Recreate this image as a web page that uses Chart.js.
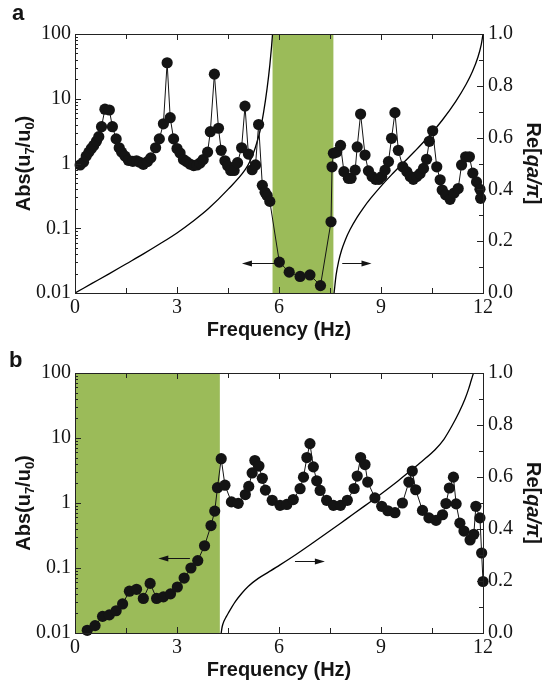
<!DOCTYPE html>
<html>
<head>
<meta charset="utf-8">
<script src="https://cdn.jsdelivr.net/npm/chart.js@4.4.0/dist/chart.umd.min.js"></script>
<style>
  body { margin: 0; background: #fff; }
  canvas { display: block; }
</style>
</head>
<body>
<canvas id="chartA" width="547" height="343"></canvas>
<canvas id="chartB" width="547" height="344"></canvas>
<script>
// panel a: transmission |u7/u0| against frequency
var freqA = [0.15,0.25,0.33,0.41,0.48,0.55,0.63,0.70,0.78,0.88,1.01,1.10,1.21,1.30,1.37,1.47,1.57,1.70,1.81,1.91,
  2.01,2.13,2.23,2.37,2.48,2.60,2.71,2.80,2.90,3.00,3.09,3.19,3.28,3.38,3.49,3.59,3.68,3.77,3.90,3.98,
  4.10,4.22,4.30,4.41,4.49,4.58,4.68,4.78,4.90,5.00,5.10,5.21,5.31,5.40,5.51,5.59,5.65,5.73,6.01,6.30,
  6.62,6.91,7.22,7.53,7.56,7.60,7.70,7.81,7.91,8.04,8.12,8.24,8.30,8.40,8.53,8.63,8.74,8.84,8.94,9.02,
  9.12,9.22,9.31,9.41,9.51,9.64,9.76,9.86,9.95,10.05,10.15,10.25,10.34,10.42,10.52,10.64,10.74,10.80,10.90,11.03,
  11.15,11.27,11.37,11.49,11.60,11.70,11.81,11.91,11.93];
var absA = [0.95,1.05,1.3,1.5,1.7,1.9,2.2,2.6,3.7,6.9,6.7,3.7,2.4,1.75,1.5,1.3,1.12,1.08,1.1,1.04,
  0.97,1.07,1.22,1.75,2.4,4.1,36,5.1,2.4,1.7,1.45,1.15,1.07,0.98,0.93,0.95,1.02,1.15,1.5,3.1,
  24,3.5,1.6,1.1,0.92,0.78,0.78,1.03,1.75,7.7,1.4,0.8,0.95,4.0,0.46,0.36,0.32,0.26,0.030,0.021,
  0.018,0.019,0.013,0.126,0.89,1.44,1.5,1.9,0.75,0.59,0.59,0.79,1.8,5.8,1.35,0.77,0.63,0.57,0.57,0.63,
  0.79,1.07,2.45,6.1,1.6,0.89,0.75,0.63,0.57,0.63,0.7,0.84,1.16,2.2,3.2,0.89,0.56,0.39,0.33,0.28,
  0.35,0.41,0.95,1.27,1.27,0.71,0.52,0.4,0.29];
// panel a: Re[qa/pi], two branches either side of the gap
var reFreqA1 = [0,0.5,1.0,1.5,2.0,2.5,3.0,3.5,3.92,4.5,5.0,5.15,5.3,5.45,5.55,5.65,5.73,5.78,5.81];
var reA1 = [0,0.037,0.074,0.112,0.15,0.19,0.232,0.28,0.325,0.40,0.475,0.51,0.56,0.63,0.70,0.79,0.88,0.95,1.0];
var reFreqA2 = [7.62,7.68,7.75,7.84,7.95,8.09,8.3,8.48,8.7,8.97,9.3,9.66,10.0,10.44,10.8,11.2,11.5,11.69,11.85,11.95,12.0];
var reA2 = [0,0.07,0.12,0.165,0.205,0.245,0.293,0.328,0.366,0.408,0.455,0.503,0.548,0.61,0.667,0.74,0.805,0.855,0.91,0.96,1.0];
var gapA = [5.81, 7.6];

// panel b
var freqB = [0.36,0.59,0.81,1.01,1.21,1.40,1.60,1.81,2.01,2.21,2.40,2.60,2.81,3.01,3.21,3.41,3.61,3.81,4.00,4.11,
  4.19,4.30,4.41,4.60,4.80,5.01,5.11,5.21,5.29,5.41,5.51,5.60,5.80,6.03,6.23,6.42,6.62,6.72,6.82,6.91,
  7.01,7.11,7.21,7.40,7.60,7.81,8.01,8.21,8.30,8.40,8.53,8.61,8.82,9.02,9.20,9.41,9.63,9.82,9.92,10.02,
  10.22,10.41,10.62,10.81,10.91,11.01,11.13,11.21,11.32,11.44,11.62,11.73,11.79,11.91,11.96,12.0];
var absB = [0.011,0.013,0.018,0.019,0.022,0.028,0.044,0.047,0.034,0.058,0.034,0.036,0.040,0.051,0.070,0.10,0.13,0.22,0.45,0.75,
  1.72,4.8,1.88,1.04,0.99,1.35,1.8,2.9,4.5,3.7,2.4,1.58,1.1,0.92,0.95,1.13,1.66,2.5,5.0,8.2,
  3.6,2.2,1.56,1.1,0.92,0.92,1.1,1.67,2.6,5.0,3.9,2.1,1.2,0.89,0.76,0.71,1.0,2.1,3.1,1.6,
  0.77,0.59,0.54,0.66,0.98,1.7,2.5,0.97,0.49,0.37,0.27,0.33,0.89,0.59,0.17,0.062];
var reFreqB = [4.30,4.33,4.38,4.45,4.51,4.7,4.9,5.1,5.39,5.7,6.03,6.5,7.0,7.5,8.0,8.5,9.0,9.5,9.83,10.2,10.59,10.85,11.08,11.3,11.47,11.58,11.65,11.72];
var reB = [0,0.025,0.045,0.063,0.077,0.118,0.152,0.18,0.21,0.235,0.262,0.302,0.347,0.393,0.44,0.487,0.535,0.585,0.62,0.66,0.705,0.745,0.795,0.85,0.90,0.94,0.97,1.0];
var gapB = [0, 4.26];

var xTicks = [0, 3, 6, 9, 12];
var absTicks = [0.01, 0.1, 1, 10, 100];
var reTicks = [0, 0.2, 0.4, 0.6, 0.8, 1.0];

// arrows: from, to, value, axis
var arrowsA = [[5.88, 4.91, 0.029, 'y'], [7.86, 8.72, 0.116, 'y1']];
var arrowsB = [[3.38, 2.45, 0.143, 'y'], [6.47, 7.35, 0.278, 'y1']];

var GREEN = '#9bbb59';
var INK = '#141414';
var SANS = '"Liberation Sans", Arial, sans-serif';
var SERIF = '"Liberation Serif", "Times New Roman", serif';

function pts(xs, ys) {
  return xs.map(function (x, i) { return { x: x, y: ys[i] }; });
}

function drawParts(ctx, parts, cx, cy, rot) {
  ctx.save();
  ctx.translate(cx, cy);
  ctx.rotate(rot);
  ctx.textAlign = 'left';
  ctx.textBaseline = 'alphabetic';
  var w = 0;
  parts.forEach(function (p) { ctx.font = p[1]; w += ctx.measureText(p[0]).width; });
  var u = -w / 2;
  parts.forEach(function (p) {
    ctx.font = p[1];
    ctx.fillText(p[0], u, 7 + (p[2] || 0));
    u += ctx.measureText(p[0]).width;
  });
  ctx.restore();
}

function arrow(ctx, xa, xb, y) {
  var d = xb > xa ? 1 : -1;
  ctx.beginPath();
  ctx.moveTo(xa, y);
  ctx.lineTo(xb - d * 6, y);
  ctx.stroke();
  ctx.beginPath();
  ctx.moveTo(xb, y);
  ctx.lineTo(xb - d * 10, y - 3);
  ctx.lineTo(xb - d * 10, y + 3);
  ctx.closePath();
  ctx.fill();
}

function decor(gap, arrows, letter, letterX, letterY) {
  return {
    id: 'decor' + letter,
    beforeDatasetsDraw: function (chart) {
      var a = chart.chartArea, x = chart.scales.x, ctx = chart.ctx;
      var x0 = Math.max(a.left, x.getPixelForValue(gap[0]));
      var x1 = x.getPixelForValue(gap[1]);
      ctx.save();
      ctx.fillStyle = GREEN;
      ctx.fillRect(x0, a.top, x1 - x0, a.bottom - a.top);
      ctx.restore();
    },
    afterDraw: function (chart) {
      var a = chart.chartArea, ctx = chart.ctx;
      var sx = chart.scales.x, sy = chart.scales.y, sr = chart.scales.y1;
      ctx.save();
      ctx.strokeStyle = '#222';
      ctx.fillStyle = INK;
      ctx.lineWidth = 1;
      // frame
      ctx.strokeRect(a.left + 0.5, a.top + 0.5, a.right - a.left, a.bottom - a.top);
      // inward ticks
      ctx.beginPath();
      for (var v = 0; v <= 12.001; v += 1.5) {
        var px = Math.round(sx.getPixelForValue(v)) + 0.5;
        var len = (Math.abs(v % 3) < 0.01) ? 6 : 5;
        ctx.moveTo(px, a.bottom); ctx.lineTo(px, a.bottom - len);
        ctx.moveTo(px, a.top); ctx.lineTo(px, a.top + len);
      }
      for (var d = -2; d <= 2; d++) {
        for (var m = 1; m <= 9; m++) {
          var val = m * Math.pow(10, d);
          if (val > 100.001) break;
          var py = Math.round(sy.getPixelForValue(val)) + 0.5;
          var l = m === 1 ? 6 : 3;
          ctx.moveTo(a.left, py); ctx.lineTo(a.left + l, py);
        }
      }
      for (var i = 0; i <= 10; i++) {
        var ry = Math.round(sr.getPixelForValue(i / 10)) + 0.5;
        var rl = i % 2 === 0 ? 6 : 4;
        ctx.moveTo(a.right, ry); ctx.lineTo(a.right - rl, ry);
      }
      ctx.stroke();
      // arrows
      ctx.strokeStyle = INK;
      arrows.forEach(function (ar) {
        var sc = chart.scales[ar[3]];
        arrow(ctx, sx.getPixelForValue(ar[0]), sx.getPixelForValue(ar[1]), Math.round(sc.getPixelForValue(ar[2])) + 0.5);
      });
      // titles
      var B = 'bold 20px ' + SANS, Bs = 'bold 13px ' + SANS, BI = 'italic bold 20px ' + SANS;
      var cy = (a.top + a.bottom) / 2;
      drawParts(ctx, [['Abs(u', B], ['7', Bs, 4], ['/u', B], ['0', Bs, 4], [')', B]], 23, cy, -Math.PI / 2);
      drawParts(ctx, [['Re[', B], ['qa/π', BI], [']', B]], 534, cy, Math.PI / 2);
      drawParts(ctx, [['Frequency (Hz)', B]], (a.left + a.right) / 2, a.bottom + 36, 0);
      ctx.font = 'bold 22px ' + SANS;
      ctx.textAlign = 'left';
      ctx.textBaseline = 'alphabetic';
      ctx.fillText(letter, letterX, letterY);
      ctx.restore();
    }
  };
}

function makeChart(id, top, xHeight, datasets, plugin) {
  var tickFont = { family: SERIF, size: 20 };
  return new Chart(id, {
    type: 'line',
    data: { datasets: datasets },
    options: {
      responsive: false,
      animation: false,
      events: [],
      layout: { padding: { top: top, left: 0, right: 0, bottom: 0 } },
      plugins: { legend: { display: false }, tooltip: { enabled: false } },
      scales: {
        x: {
          type: 'linear', min: 0, max: 12,
          grid: { display: false, drawTicks: false }, border: { display: false },
          afterBuildTicks: function (s) { s.ticks = xTicks.map(function (v) { return { value: v }; }); },
          afterFit: function (s) { s.height = xHeight; },
          ticks: { font: tickFont, color: INK, padding: 3, autoSkip: false, maxRotation: 0 }
        },
        y: {
          type: 'logarithmic', position: 'left', min: 0.01, max: 100,
          grid: { display: false, drawTicks: false }, border: { display: false },
          afterBuildTicks: function (s) { s.ticks = absTicks.map(function (v) { return { value: v }; }); },
          afterFit: function (s) { s.width = 75; },
          ticks: { font: tickFont, color: INK, padding: 4, autoSkip: false,
            callback: function (v) { return String(v); } }
        },
        y1: {
          type: 'linear', position: 'right', min: 0, max: 1,
          grid: { display: false, drawTicks: false }, border: { display: false },
          afterBuildTicks: function (s) { s.ticks = reTicks.map(function (v) { return { value: v }; }); },
          afterFit: function (s) { s.width = 64; },
          ticks: { font: tickFont, color: INK, padding: 5, autoSkip: false,
            callback: function (v) { return Number(v).toFixed(1); } }
        }
      }
    },
    plugins: [plugin]
  });
}

function dots(xs, ys) {
  return { data: pts(xs, ys), yAxisID: 'y', borderColor: INK, borderWidth: 1, pointRadius: 5.6,
    pointBackgroundColor: INK, pointBorderWidth: 0, tension: 0, clip: false };
}
function curve(xs, ys) {
  return { data: pts(xs, ys), yAxisID: 'y1', borderColor: '#000', borderWidth: 1.3, pointRadius: 0,
    cubicInterpolationMode: 'monotone' };
}

makeChart('chartA', 34, 50,
  [dots(freqA, absA), curve(reFreqA1, reA1), curve(reFreqA2, reA2)],
  decor(gapA, arrowsA, 'a', 12, 20));

makeChart('chartB', 30, 54,
  [dots(freqB, absB), curve(reFreqB, reB)],
  decor(gapB, arrowsB, 'b', 9, 24));
</script>
</body>
</html>
